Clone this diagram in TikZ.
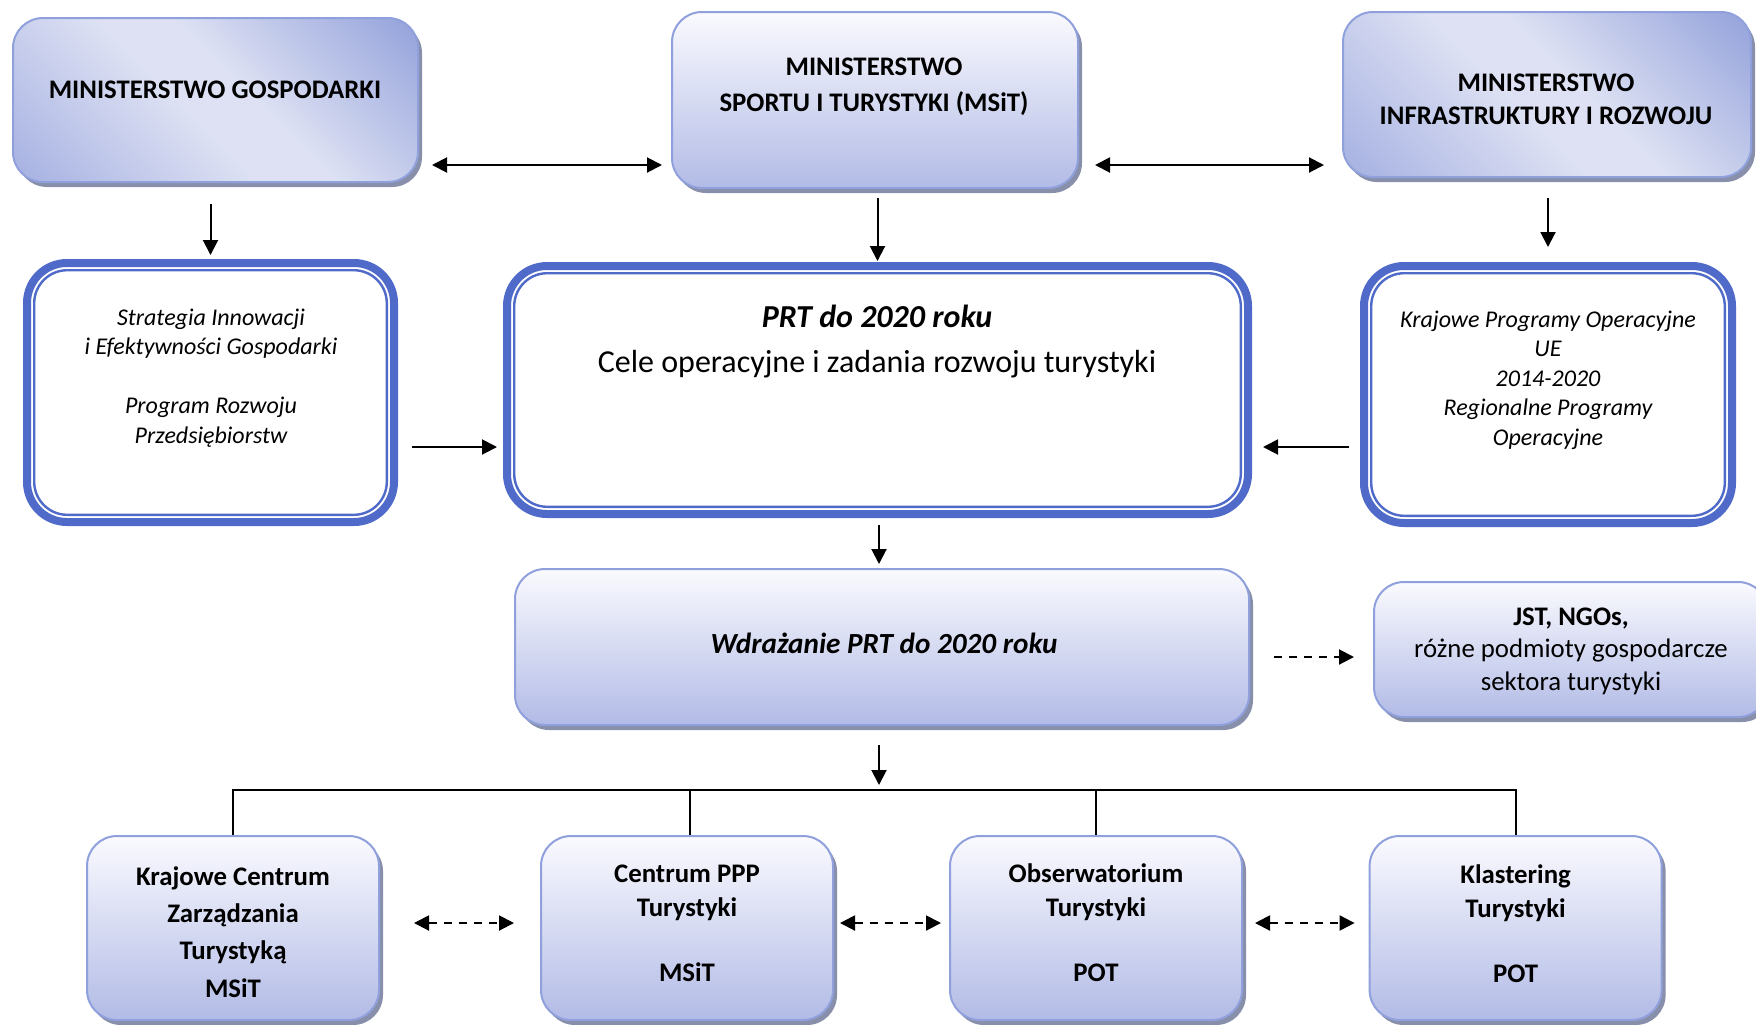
\documentclass[tikz,border=0pt]{standalone}
\usepackage{fontspec}
\setmainfont{Carlito}
\usetikzlibrary{arrows.meta}
\usetikzlibrary{shadows}

\definecolor{gtop}{RGB}{250,250,254}
\definecolor{gbot}{RGB}{178,187,230}
\definecolor{glight}{RGB}{221,225,243}
\definecolor{gdark}{RGB}{148,162,219}
\definecolor{gmid}{RGB}{166,177,226}
\definecolor{bordblue}{RGB}{143,160,220}
\definecolor{shadowgray}{RGB}{136,143,170}
\definecolor{royal}{RGB}{79,106,200}

\pgfdeclarehorizontalshading{diagblue}{100bp}{color(0bp)=(gmid); color(15bp)=(gmid); color(45bp)=(glight); color(55bp)=(glight); color(85bp)=(gdark); color(100bp)=(gdark)}

\begin{document}
\begin{tikzpicture}[x=1pt,y=-1pt,
  box/.style={rounded corners=15pt,draw=bordblue,line width=1pt,inner sep=0pt,
    drop shadow={shadow xshift=2pt,shadow yshift=-2.5pt,fill=shadowgray,opacity=1}},
  vgrad/.style={top color=gtop,bottom color=gbot},
  dgrad/.style={shading=diagblue,shading angle=45},
  dblbox/.style={rounded corners=20pt,draw=royal,line width=4pt,outer sep=0pt,inner sep=0pt,fill=white},
  dblin/.style={rounded corners=16.5pt,draw=royal,line width=1.2pt},
  arr/.style={line width=1pt,-{Triangle[length=7.5pt,width=7.5pt]}},
  arrs/.style={line width=1pt,{Triangle[length=7.5pt,width=7.5pt]}-{Triangle[length=7.5pt,width=7.5pt]}},
  darr/.style={arr,dash pattern=on 4pt off 3.5pt},
  darrs/.style={arrs,dash pattern=on 4pt off 3.5pt},
  link/.style={line width=0.9pt},
  capt/.style={font=\fontsize{13.4}{16.5}\selectfont\bfseries,align=center,inner sep=0pt},
  itt/.style={font=\fontsize{12}{14.7}\selectfont\itshape,align=center,inner sep=0pt},
  prtt/.style={font=\fontsize{16}{22.5}\selectfont,align=center,inner sep=0pt},
  wt/.style={font=\fontsize{14.6}{17}\selectfont\bfseries\itshape,inner sep=0pt},
  jstt/.style={font=\fontsize{13.4}{16.3}\selectfont,align=center,inner sep=0pt},
  bott/.style={font=\fontsize{13.4}{17}\selectfont\bfseries,align=center,inner sep=0pt},
  kczt/.style={font=\fontsize{13.4}{18.6}\selectfont\bfseries,align=center,inner sep=0pt}]
\useasboundingbox (0,0) rectangle (878,512);

% ministerstwa
\node[box,dgrad,minimum width=202.5pt,minimum height=82pt] (mg) at (107.75,50) {};
\node[box,vgrad,minimum width=203pt,minimum height=88pt] (msit) at (437.5,50) {};
\node[box,dgrad,minimum width=204pt,minimum height=82.5pt] (mir) at (773.5,47.25) {};
\node[capt] (mgtxt) at (107.5,44.75) {MINISTERSTWO GOSPODARKI};
\node[capt,font=\fontsize{13.4}{18}\selectfont\bfseries] (msittxt) at (437,43.5) {MINISTERSTWO\\SPORTU I TURYSTYKI (MSiT)};
\node[capt] (mirtxt) at (773,49.5) {MINISTERSTWO\\INFRASTRUKTURY I ROZWOJU};

% dokumenty
\node[dblbox,minimum width=183.5pt,minimum height=129.5pt] (sieg) at (105.25,196.25) {};
\node[dblbox,minimum width=370.5pt,minimum height=124pt] (prt) at (438.75,195) {};
\node[dblbox,minimum width=184pt,minimum height=128.5pt] (kpo) at (774,197.25) {};
\draw[dblin] ([shift={(3.6pt,-3.6pt)}]sieg.north west) rectangle ([shift={(-3.6pt,3.6pt)}]sieg.south east);
\draw[dblin] ([shift={(3.6pt,-3.6pt)}]prt.north west) rectangle ([shift={(-3.6pt,3.6pt)}]prt.south east);
\draw[dblin] ([shift={(3.6pt,-3.6pt)}]kpo.north west) rectangle ([shift={(-3.6pt,3.6pt)}]kpo.south east);
\node[itt] (siegtxt) at (105.5,189) {Strategia Innowacji\\i Efektywności Gospodarki\\[14.7pt]Program Rozwoju\\Przedsiębiorstw};
\node[prtt] (prttxt) at (438.5,171) {\textbf{\textit{PRT do 2020 roku}}\\Cele operacyjne i zadania rozwoju turystyki};
\node[itt] (kpotxt) at (774,190) {Krajowe Programy Operacyjne\\UE\\2014-2020\\Regionalne Programy\\Operacyjne};

% wdrazanie
\node[box,vgrad,minimum width=367pt,minimum height=78pt] (w) at (441,323.5) {};
\node[wt] (wtxt) at (442,321.5) {Wdrażanie PRT do 2020 roku};
\node[box,vgrad,minimum width=197pt,minimum height=67.5pt] (jst) at (785.5,324.75) {};
\node[jstt] (jsttxt) at (785.5,325.5) {\textbf{JST, NGOs,}\\różne podmioty gospodarcze\\sektora turystyki};

% instytucje
\node[box,vgrad,minimum width=146pt,minimum height=92pt] (kczt) at (116.5,464) {};
\node[box,vgrad,minimum width=146pt,minimum height=92pt] (ppp) at (343.5,464) {};
\node[box,vgrad,minimum width=146pt,minimum height=92pt] (obs) at (548,464) {};
\node[box,vgrad,minimum width=146pt,minimum height=92pt] (klas) at (757.8,464) {};
\node[kczt] (kczttxt) at (116.5,466) {Krajowe Centrum\\Zarządzania\\Turystyką\\MSiT};
\node[bott] (ppptxt) at (343.5,461.5) {Centrum PPP\\Turystyki\\[15.5pt]MSiT};
\node[bott] (obstxt) at (548,461.5) {Obserwatorium\\Turystyki\\[15.5pt]POT};
\node[bott] (klastxt) at (757.8,462) {Klastering\\Turystyki\\[15.5pt]POT};

% polaczenia
\coordinate (rowa) at (0,82.5);
\coordinate (rowb) at (0,223.5);
\coordinate (rowd) at (0,328.5);
\coordinate (rowe) at (0,461.5);
\coordinate (bus) at (439.5,395);
\draw[arrs,shorten <=6.5pt,shorten >=4.5pt] (mg.east |- rowa) -- (msit.west |- rowa);
\draw[arrs,shorten <=8pt,shorten >=9pt] (msit.east |- rowa) -- (mir.west |- rowa);
\draw[arr,shorten <=10.5pt,shorten >=4pt] (sieg.north |- mg.south) -- (sieg.north);
\draw[arr,shorten <=4.5pt,shorten >=2.5pt] (prt.north |- msit.south) -- (prt.north);
\draw[arr,shorten <=10pt,shorten >=9.5pt] (kpo.north |- mir.south) -- (kpo.north);
\draw[arr,shorten <=9pt,shorten >=5pt] (sieg.east |- rowb) -- (prt.west |- rowb);
\draw[arr,shorten <=7.5pt,shorten >=7.5pt] (kpo.west |- rowb) -- (prt.east |- rowb);
\draw[arr,shorten <=5.5pt,shorten >=2pt] (bus |- prt.south) -- (bus |- w.north);
\draw[arr,shorten <=9.5pt,shorten >=2.5pt] (bus |- w.south) -- (bus);
\draw[darr,shorten <=12pt,shorten >=9.5pt] (w.east |- rowd) -- (jst.west |- rowd);
\draw[link] (kczt.north) -- (kczt.north |- bus) -- (klas.north |- bus) -- (klas.north);
\draw[link] ([xshift=1.5pt]ppp.north |- bus) -- ([xshift=1.5pt]ppp.north);
\draw[link] (obs.north |- bus) -- (obs.north);
\draw[darrs,shorten <=17pt,shorten >=13pt] (kczt.east |- rowe) -- (ppp.west |- rowe);
\draw[darrs,shorten <=3pt,shorten >=4pt] (ppp.east |- rowe) -- (obs.west |- rowe);
\draw[darrs,shorten <=6pt,shorten >=7pt] (obs.east |- rowe) -- (klas.west |- rowe);

\end{tikzpicture}
\end{document}
